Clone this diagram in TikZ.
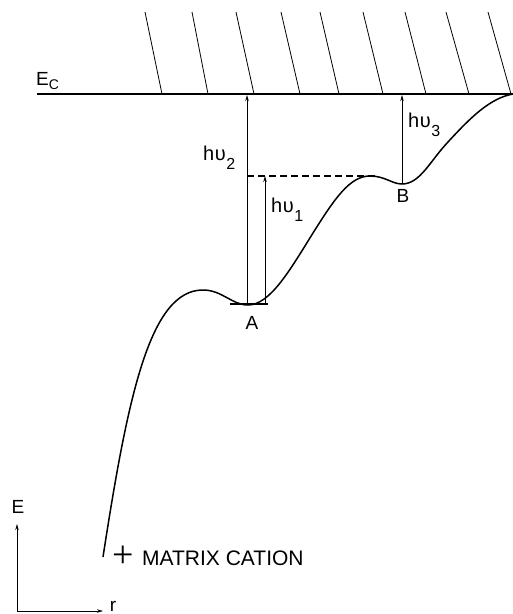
\documentclass[tikz,border=0pt]{standalone}
\usepackage{fontspec}
\setmainfont{Liberation Sans}
\newfontfamily\plusfont{Liberation Serif}
\usetikzlibrary{arrows.meta}
\newcommand{\hnulbl}[1]{h\kern0.5pt υ\kern0.5pt\raisebox{-9pt}{\fontsize{16}{16}\selectfont #1}}
\begin{document}
\begin{tikzpicture}[x=1pt,y=-1pt,
  lbl/.style={inner sep=0pt,font=\fontsize{19}{19}\selectfont},
  hlbl/.style={inner sep=0pt,font=\fontsize{20}{20}\selectfont},
  up/.style={line width=0.9pt,-{Stealth[length=6pt,width=3.5pt]}},
  hatch/.style={line width=0.8pt},
  curve/.style={line width=1.5pt,line join=round}]
\useasboundingbox (0,0) rectangle (513,614);
% conduction band edge
\coordinate (ecL) at (37,94);
\coordinate (ecR) at (513,94);
\draw[line width=1.6pt] (ecL) -- (ecR);
\node[lbl,anchor=base west] (Ec) at (36,85) {E\raisebox{-4pt}{\fontsize{14}{14}\selectfont C}};
% hatching
\foreach \xt/\xb in {145/162,192/208,236/254,281/300,320/339,363/383,405/426,446/469,488/511}
  \draw[hatch] (\xt,12) -- (\xb,94);
% potential curve
\coordinate (c0) at (103,557);
\coordinate (c1) at (203,290);
\coordinate (c2) at (248,305);
\coordinate (c3) at (313,233);
\coordinate (c4) at (370,176);
\coordinate (c5) at (402,184);
\coordinate (c6) at (448,142);
\draw[curve] (c0) .. controls (128,395) and (150,290) .. (c1)
  .. controls (222,290) and (232,305) .. (c2)
  .. controls (270,305) and (290,270) .. (c3)
  .. controls (335,198) and (350,176) .. (c4)
  .. controls (385,176) and (392,184) .. (c5)
  .. controls (420,184) and (430,161) .. (c6)
  .. controls (470,118) and (490,98) .. (ecR);
% level bar at A
\coordinate (barL) at (230,304);
\coordinate (barR) at (268,304);
\draw[line width=1.6pt] (barL) -- (barR);
% transitions
\coordinate (A2) at (247,304);
\coordinate (A1) at (265,304);
\coordinate (top2) at (247,95);
\coordinate (lev1) at (265,176);
\coordinate (dashL) at (247,176);
\coordinate (dashR) at (375,176);
\coordinate (top3) at (402,95);
\draw[up] (A2) -- (top2);
\draw[up] (A1) -- (lev1);
\draw[up] (c5) -- (top3);
\draw[line width=1.2pt,dash pattern=on 7pt off 4pt] (dashL) -- (dashR);
% labels
\node[hlbl,anchor=base west] (hv2) at (203,160) {\hnulbl{2}};
\node[hlbl,anchor=base west] (hv1) at (271,212) {\hnulbl{1}};
\node[hlbl,anchor=base west] (hv3) at (408,127) {\hnulbl{3}};
\node[lbl] (A) at (252,323) {A};
\node[lbl] (B) at (403,196) {B};
% matrix cation
\node[inner sep=0pt] (plus) at (123,557) {\plusfont\fontsize{38}{38}\selectfont +};
\node[inner sep=0pt,font=\fontsize{21}{21}\selectfont,anchor=base west] (cat) at (142,565) {MATRIX CATION};
% axes
\coordinate (org) at (17,611);
\coordinate (eTop) at (17,524);
\coordinate (rEnd) at (103,611);
\draw[line width=0.9pt,-{Stealth[length=6pt,width=3.5pt]}] (org) -- (eTop);
\draw[line width=0.9pt,-{Stealth[length=6pt,width=3.5pt]}] (org) -- (rEnd);
\node[lbl] (E) at (18,507) {E};
\node[lbl] (r) at (113,606) {r};
\end{tikzpicture}
\end{document}
